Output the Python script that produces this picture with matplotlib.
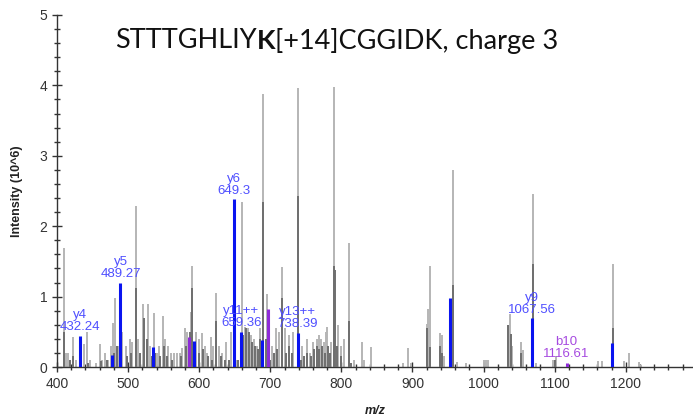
import matplotlib
matplotlib.use("Agg")
import matplotlib.pyplot as plt
from matplotlib.ticker import MultipleLocator

# ---------------- data ----------------
light_mz = [410, 413, 416, 422, 427, 438, 441.5, 446, 455, 460, 463, 468, 472, 476, 479, 482,
            486, 492, 497, 502, 505, 510.5, 514, 521, 527.5, 531, 536, 540, 543, 548.5, 552,
            556, 560, 565, 569, 573, 576, 580, 583, 588, 590.5, 596, 600, 604, 608, 611, 616,
            620, 623.5, 628, 632, 638, 645, 652, 660, 664, 669, 673, 677, 681, 685, 690, 695,
            702, 708, 712, 717, 720, 727, 732, 739, 744, 752, 756, 760, 765, 768, 771, 775,
            778, 780, 785, 789.5, 795, 799, 804, 810, 818, 828.5, 832, 841, 887, 894, 898,
            920, 922, 925, 938, 941, 944, 957, 963, 975, 1000, 1003, 1006, 1035, 1037, 1040,
            1052, 1055, 1070, 1073, 1097, 1100, 1102, 1161, 1166, 1182.5, 1197, 1204, 1218, 1222]
light_int = [1.69, 0.2, 0.2, 0.43, 0.1, 0.33, 0.5, 0.1, 0.05, 0.33, 0.1, 0.2, 0.1, 0.3, 0.62, 0.98,
             0.3, 0.5, 0.3, 0.4, 0.35, 2.28, 0.4, 0.9, 0.9, 0.3, 0.76, 0.2, 0.3, 0.73, 0.4,
             0.3, 0.2, 0.2, 0.2, 0.2, 0.27, 0.55, 0.5, 0.78, 1.44, 0.5, 0.4, 0.48, 0.3, 0.2, 0.43,
             0.3, 1.05, 0.3, 0.2, 0.35, 0.5, 0.1, 2.34, 0.57, 0.55, 0.45, 0.4, 0.3, 0.55, 3.88, 1.03,
             0.3, 0.56, 0.5, 1.42, 0.55, 0.45, 0.5, 3.97, 0.3, 0.4, 0.2, 0.35, 0.4, 0.45, 0.4, 0.35,
             0.5, 0.57, 0.35, 3.98, 0.6, 0.3, 0.4, 1.76, 0.1, 0.36, 0.1, 0.29, 0.05, 0.27, 0.05,
             0.61, 0.82, 1.43, 0.48, 0.45, 0.15, 2.8, 0.07, 0.05, 0.1, 0.1, 0.1, 0.6, 0.75, 0.3,
             0.36, 0.24, 2.46, 0.05, 0.1, 0.1, 0.16, 0.08, 0.08, 1.46, 0.08, 0.2, 0.07, 0.03]

dark_mz = [410, 418, 422, 444, 462, 470, 480, 485, 490.5, 498, 504, 510.5, 517, 522, 527, 533,
           538, 545, 550, 555, 562, 575, 582, 587, 590, 594, 600, 606, 612, 618, 624, 630, 636,
           642, 654, 662, 666, 670, 674, 678, 682, 686, 690, 694, 700, 705, 710, 717, 722, 726,
           730, 739, 743, 748, 752, 757, 762, 766, 769, 773, 777, 781, 784, 789, 791, 794, 800,
           810, 814, 921, 925, 938, 941, 957, 1035, 1038, 1052, 1070, 1100, 1182.5]
dark_int = [0.5, 0.1, 0.15, 0.05, 0.08, 0.1, 0.2, 0.3, 0.3, 0.15, 0.2, 1.12, 0.2, 0.7, 0.4, 0.15,
            0.2, 0.15, 0.3, 0.15, 0.1, 0.15, 0.3, 0.5, 1.12, 0.3, 0.2, 0.25, 0.15, 0.1, 0.65, 0.15, 0.1,
            0.1, 0.1, 0.45, 0.55, 0.5, 0.35, 0.3, 0.25, 0.4, 2.34, 0.4, 0.1, 0.2, 0.25, 0.98, 0.2, 0.3,
            0.2, 2.43, 0.1, 0.15, 0.2, 0.15, 0.25, 0.3, 0.25, 0.3, 0.2, 0.3, 0.2, 1.43, 1.38, 0.3, 0.15,
            0.66, 0.05, 0.55, 0.29, 0.3, 0.2, 1.16, 0.6, 0.47, 0.2, 1.46, 0.1, 0.55]

blue_mz = [432.24, 477.5, 489.27, 535, 592, 649.3, 659.36, 688, 738.39, 952.7, 1067.56, 1180]
blue_int = [0.44, 0.17, 1.19, 0.28, 0.37, 2.38, 0.5, 0.38, 0.48, 0.98, 0.69, 0.34]

purple_mz = [586, 697, 1116.61]
purple_int = [0.43, 0.82, 0.06]

blue_labels = ["y4\n432.24", "y5\n489.27", "y6\n649.3", "y11++\n659.36", "y13++\n738.39", "y9\n1067.56"]
blue_label_mz = [432.24, 489.27, 649.3, 659.36, 738.39, 1067.56]
blue_label_int = [0.44, 1.19, 2.38, 0.5, 0.48, 0.69]
purple_labels = ["b10\n1116.61"]
purple_label_mz = [1116.61]
purple_label_int = [0.06]

x_ticks = [400, 500, 600, 700, 800, 900, 1000, 1100, 1200]
y_ticks = [0, 1, 2, 3, 4, 5]

# ---------------- figure ----------------
W, H = 693, 419
fig = plt.figure(figsize=(W / 100, H / 100), dpi=100)
ax = fig.add_axes([57 / W, 1 - 367 / H, (W - 57) / W, (367 - 15) / H])

ax.vlines(light_mz, 0, light_int, colors="#b5b5b5", lw=1.4, zorder=2)
ax.vlines(dark_mz, 0, dark_int, colors="#6f6f6f", lw=1.4, zorder=3)
ax.vlines(blue_mz, 0, blue_int, colors="#0a14f0", lw=2.2, zorder=4)
ax.vlines(purple_mz, 0, purple_int, colors="#8e2bd8", lw=2.2, zorder=4)

for lab, x, y in zip(blue_labels, blue_label_mz, blue_label_int):
    ax.annotate(lab, (x, y), xytext=(0, 2), textcoords="offset points", ha="center", va="bottom",
                color="#4f4fff", fontsize=9.5, family="Liberation Sans", linespacing=1.0, zorder=6)
for lab, x, y in zip(purple_labels, purple_label_mz, purple_label_int):
    ax.annotate(lab, (x, y), xytext=(0, 2), textcoords="offset points", ha="center", va="bottom",
                color="#a64ae0", fontsize=9.5, family="Liberation Sans", linespacing=1.0, zorder=6)

ax.set_xlim(400, 400 + (W - 57) / 0.711)
ax.set_ylim(0, 5)
ax.set_xticks(x_ticks)
ax.set_yticks(y_ticks)
ax.xaxis.set_minor_locator(MultipleLocator(20))
ax.yaxis.set_minor_locator(MultipleLocator(0.2))
for s in ["top", "right"]:
    ax.spines[s].set_visible(False)
for s in ["left", "bottom"]:
    ax.spines[s].set_color("#333333")
    ax.spines[s].set_linewidth(1.0)
ax.tick_params(which="major", direction="inout", length=7, width=1, color="#333333",
               labelsize=10, labelcolor="#333333")
ax.tick_params(which="minor", direction="inout", length=4, width=1, color="#333333")
for lbl in ax.get_xticklabels() + ax.get_yticklabels():
    lbl.set_family("Liberation Sans")

ax.set_xlabel("m/z", fontsize=9, fontweight="bold", fontstyle="italic", family="Liberation Sans",
              color="#222222", labelpad=10)
ax.set_ylabel("Intensity (10^6)", fontsize=9, fontweight="bold", family="Liberation Sans",
              color="#222222", labelpad=12)

# title with bold K
parts = [("STTTGHLIY", "normal"), ("K", "bold"), ("[+14]CGGIDK, charge 3", "normal")]
fig.canvas.draw()
renderer = fig.canvas.get_renderer()
x0 = 115 / W
yb = 1 - 41 / H
for txt, wt in parts:
    t = fig.text(x0, yb, txt, fontsize=19.5, fontweight=wt, family="Lato", color="#111111",
                 ha="left", va="center")
    bb = t.get_window_extent(renderer)
    x0 += bb.width / W

fig.savefig("out.png", dpi=100)
